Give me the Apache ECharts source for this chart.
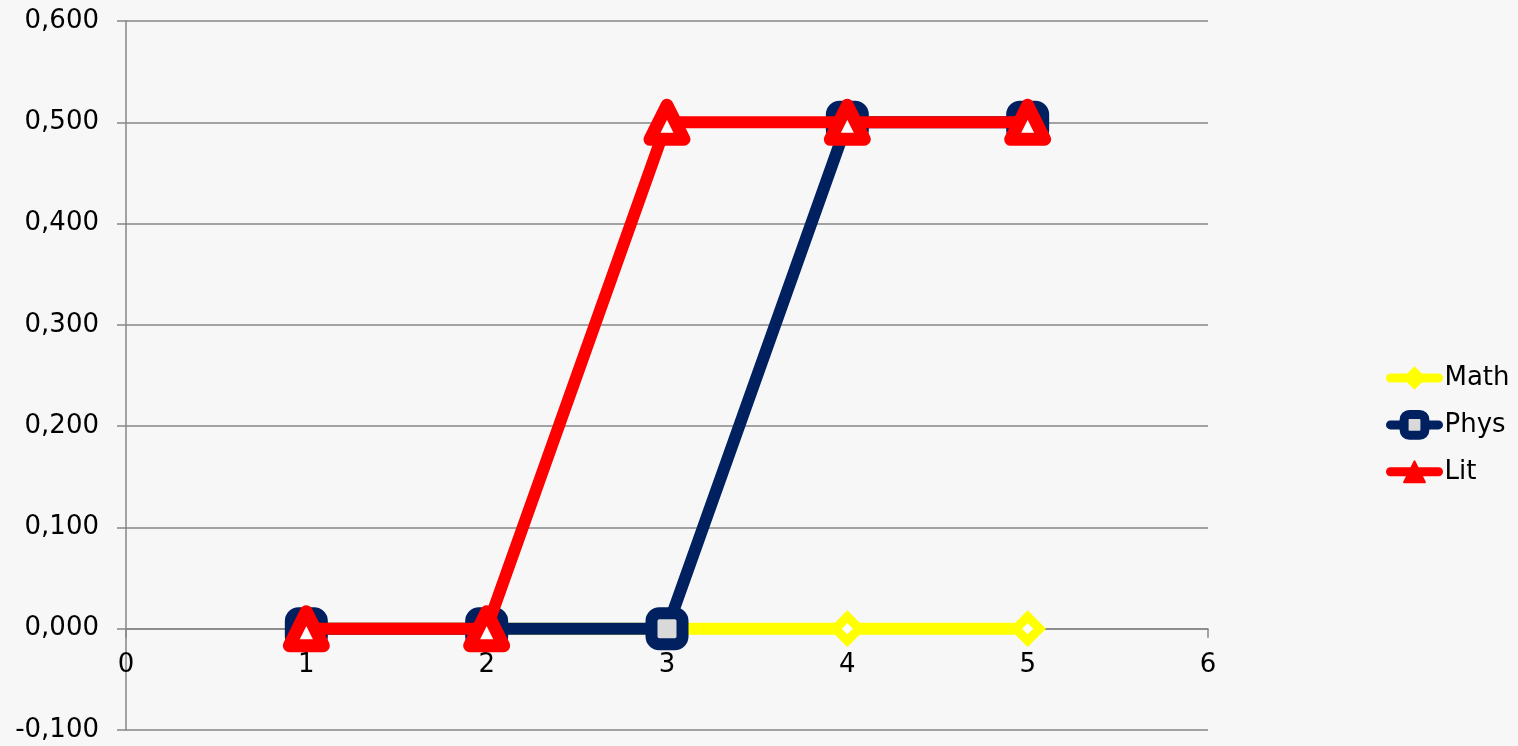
<!DOCTYPE html>
<html>
<head>
<meta charset="utf-8">
<style>
  html, body { margin: 0; padding: 0; background: #f7f7f7; }
  #chart { width: 1518px; height: 746px; }
</style>
<script src="https://cdn.jsdelivr.net/npm/echarts@6/dist/echarts.min.js"></script>
</head>
<body>
<div id="chart"></div>
<script>
// Scores per step, three subjects
const xValues = [1, 2, 3, 4, 5];
const mathValues = [0, 0, 0, 0, 0];
const physValues = [0, 0, 0, 0.5, 0.5];
const litValues = [0, 0, 0.5, 0.5, 0.5];
const seriesNames = ['Math', 'Phys', 'Lit'];

const pair = (vals) => xValues.map((x, i) => [x, vals[i]]);
const axisGray = '#868686';
const font = 'DejaVu Sans, Verdana, sans-serif';

// Plot box and value ranges
const H = 746, TOP = 21, BOTTOM = 16;
const yMin = -0.1, yMax = 0.6;
// the x axis sits on y = 0: a second grid ends exactly there
const zeroBottom = BOTTOM + (0 - yMin) / (yMax - yMin) * (H - TOP - BOTTOM);

const chart = echarts.init(document.getElementById('chart'));
chart.setOption({
  backgroundColor: '#f7f7f7',
  animation: false,
  grid: [
    { left: 126, right: 310, top: TOP, bottom: BOTTOM, containLabel: false, outerBoundsMode: 'none' },
    { left: 126, right: 310, top: TOP, bottom: zeroBottom, containLabel: false, outerBoundsMode: 'none' }
  ],
  xAxis: [
    {
      type: 'value', min: 0, max: 6, interval: 1, gridIndex: 0,
      axisLine: { show: false }, axisTick: { show: false },
      axisLabel: { show: false }, splitLine: { show: false }
    },
    {
      type: 'value', min: 0, max: 6, interval: 1, gridIndex: 1, position: 'bottom',
      axisLine: { show: true, onZero: false, lineStyle: { color: axisGray, width: 1.5 } },
      axisTick: { show: true, length: 9, lineStyle: { color: axisGray, width: 1.5 } },
      axisLabel: { color: '#000', fontFamily: font, fontSize: 26, margin: 24 },
      splitLine: { show: false }
    }
  ],
  yAxis: [
    {
      type: 'value', min: yMin, max: yMax, interval: 0.1, gridIndex: 0,
      axisLine: { show: true, onZero: false, lineStyle: { color: axisGray, width: 1.5 } },
      axisTick: { show: true, length: 9, lineStyle: { color: axisGray, width: 1.5 } },
      axisLabel: {
        color: '#000', fontFamily: font, fontSize: 26, margin: 27,
        formatter: (v) => v.toFixed(3).replace('.', ',')
      },
      splitLine: { show: true, lineStyle: { color: axisGray, width: 1.5 } }
    },
    {
      type: 'value', min: 0, max: yMax, gridIndex: 1, show: false
    }
  ],
  legend: {
    orient: 'vertical', left: 1381, top: 360,
    itemWidth: 48, itemHeight: 26, itemGap: 19,
    textStyle: { color: '#000', fontFamily: font, fontSize: 26, padding: [0, 0, 0, 1] },
    data: [
      { name: seriesNames[0], lineStyle: { width: 9, cap: 'round' },
        itemStyle: { color: '#ffff00', borderColor: '#ffff00', borderWidth: 2 } },
      { name: seriesNames[1], lineStyle: { width: 9, cap: 'round' },
        itemStyle: { color: '#d9d9d9', borderColor: '#002060', borderWidth: 9 } },
      { name: seriesNames[2], lineStyle: { width: 9, cap: 'round' },
        itemStyle: { color: '#ff0000', borderColor: '#ff0000', borderWidth: 2 } }
    ]
  },
  series: [
    {
      name: seriesNames[0], type: 'line', data: pair(mathValues),
      xAxisIndex: 0, yAxisIndex: 0,
      symbol: 'diamond', symbolSize: 24,
      lineStyle: { color: '#ffff00', width: 12 },
      itemStyle: { color: '#ffffff', borderColor: '#ffff00', borderWidth: 9 },
      z: 2
    },
    {
      name: seriesNames[1], type: 'line', data: pair(physValues),
      xAxisIndex: 0, yAxisIndex: 0,
      symbol: 'roundRect', symbolSize: 31,
      lineStyle: { color: '#002060', width: 12 },
      itemStyle: { color: '#d9d9d9', borderColor: '#002060', borderWidth: 12 },
      z: 3
    },
    {
      name: seriesNames[2], type: 'line', data: pair(litValues),
      xAxisIndex: 0, yAxisIndex: 0,
      symbol: 'triangle', symbolSize: 34,
      lineStyle: { color: '#ff0000', width: 12 },
      itemStyle: { color: '#ffffff', borderColor: '#ff0000', borderWidth: 13, borderJoin: 'round' },
      z: 4
    }
  ]
});
</script>
</body>
</html>
